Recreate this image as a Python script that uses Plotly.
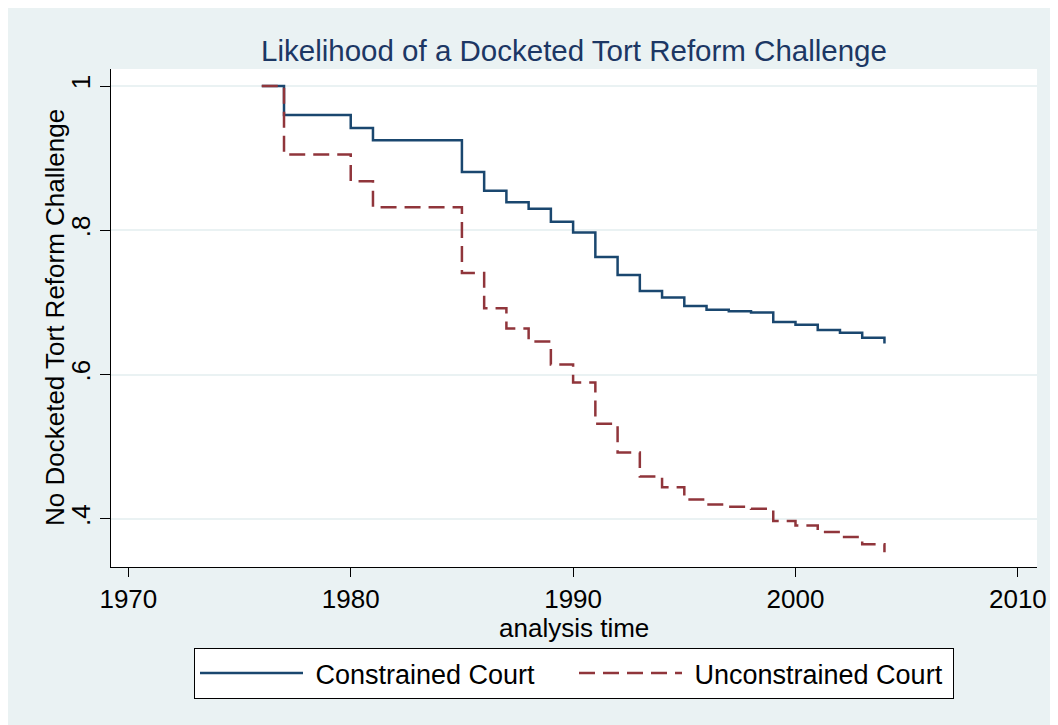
import plotly.graph_objects as go

# ---- data ----
years_constrained = [1976, 1977, 1980, 1981, 1985, 1986, 1987, 1988, 1989, 1990, 1991, 1992,
                     1993, 1994, 1995, 1996, 1997, 1998, 1999, 2000, 2001, 2002, 2003, 2004]
surv_constrained = [1.0, 0.960, 0.942, 0.925, 0.881, 0.855, 0.839, 0.830, 0.812, 0.797, 0.763, 0.738,
                    0.716, 0.707, 0.695, 0.690, 0.688, 0.686, 0.673, 0.669, 0.662, 0.658, 0.651, 0.643]

years_unconstrained = [1976, 1977, 1980, 1981, 1985, 1986, 1987, 1988, 1989, 1990, 1991, 1992,
                       1993, 1994, 1995, 1996, 1997, 1998, 1999, 2000, 2001, 2002, 2003, 2004]
surv_unconstrained = [1.0, 0.905, 0.868, 0.832, 0.741, 0.692, 0.664, 0.646, 0.614, 0.589, 0.532, 0.492,
                      0.459, 0.444, 0.427, 0.420, 0.417, 0.414, 0.397, 0.391, 0.382, 0.375, 0.365, 0.354]

x_ticks = [1970, 1980, 1990, 2000, 2010]
y_ticks = [0.4, 0.6, 0.8, 1.0]
y_ticktext = [".4", ".6", ".8", "1"]

title_text = "Likelihood of a Docketed Tort Reform Challenge"
x_title = "analysis time"
y_title = "No Docketed Tort Reform Challenge"
names = ["Constrained Court", "Unconstrained Court"]

BG = "#EAF2F3"
BLUE = "#1A476F"
RED = "#90353B"
FONT = "Liberation Sans, Arial, sans-serif"

fig = go.Figure()
fig.add_trace(go.Scatter(
    x=years_constrained, y=surv_constrained, mode="lines", line_shape="hv",
    name="&nbsp;" + names[0], line=dict(color=BLUE, width=2.5)))
fig.add_trace(go.Scatter(
    x=years_unconstrained, y=surv_unconstrained, mode="lines", line_shape="hv",
    name="&nbsp;" + names[1], line=dict(color=RED, width=2.5, dash="16px,8px")))

# page offset of ~7px is added by the browser page margin
W, H = 1058, 725
L, R, T, B = 103, 29, 61, 166
pw, ph = W - L - R, H - T - B

def px_x(p):
    return (p - L) / pw

def px_y(q):
    return (H - B - q) / ph

fig.update_layout(
    width=W, height=H,
    margin=dict(l=L, r=R, t=T, b=B, autoexpand=False),
    paper_bgcolor=BG, plot_bgcolor="white",
    font=dict(family=FONT, size=26, color="black"),
    title=dict(text=title_text, x=0.5, xref="paper", xanchor="center",
               y=1 - 43 / H, yref="container", yanchor="middle",
               font=dict(family=FONT, size=29.5, color="#1C3764")),
    xaxis=dict(range=[1969.22, 2010.86], tickvals=x_ticks, showgrid=False, zeroline=False,
               showline=True, linecolor="black", linewidth=1, mirror=False,
               ticks="outside", ticklen=9, tickwidth=1, tickcolor="black",
               tickfont=dict(size=26)),
    yaxis=dict(range=[0.3334, 1.0236], tickvals=y_ticks, ticktext=y_ticktext, tickangle=-90,
               showgrid=True, gridcolor=BG, gridwidth=2, zeroline=False,
               showline=True, linecolor="black", linewidth=1, mirror=False,
               ticks="outside", ticklen=10, tickwidth=1, tickcolor="black",
               tickfont=dict(size=26)),
    legend=dict(orientation="h", x=0.5, xanchor="center", y=px_y(640), yanchor="top",
                bgcolor="white", bordercolor="black", borderwidth=1,
                font=dict(family=FONT, size=27, color="black"), itemwidth=103,
                entrywidth=261, entrywidthmode="pixels",
                traceorder="normal"),
    annotations=[
        dict(text=x_title, xref="paper", yref="paper", x=0.5, y=px_y(620),
             xanchor="center", yanchor="middle", showarrow=False,
             font=dict(family=FONT, size=26, color="black")),
        dict(text=y_title, xref="paper", yref="paper", x=px_x(47), y=0.5,
             xanchor="center", yanchor="middle", textangle=-90, showarrow=False,
             font=dict(family=FONT, size=26, color="black")),
    ],
)

fig.write_html("out.html")
